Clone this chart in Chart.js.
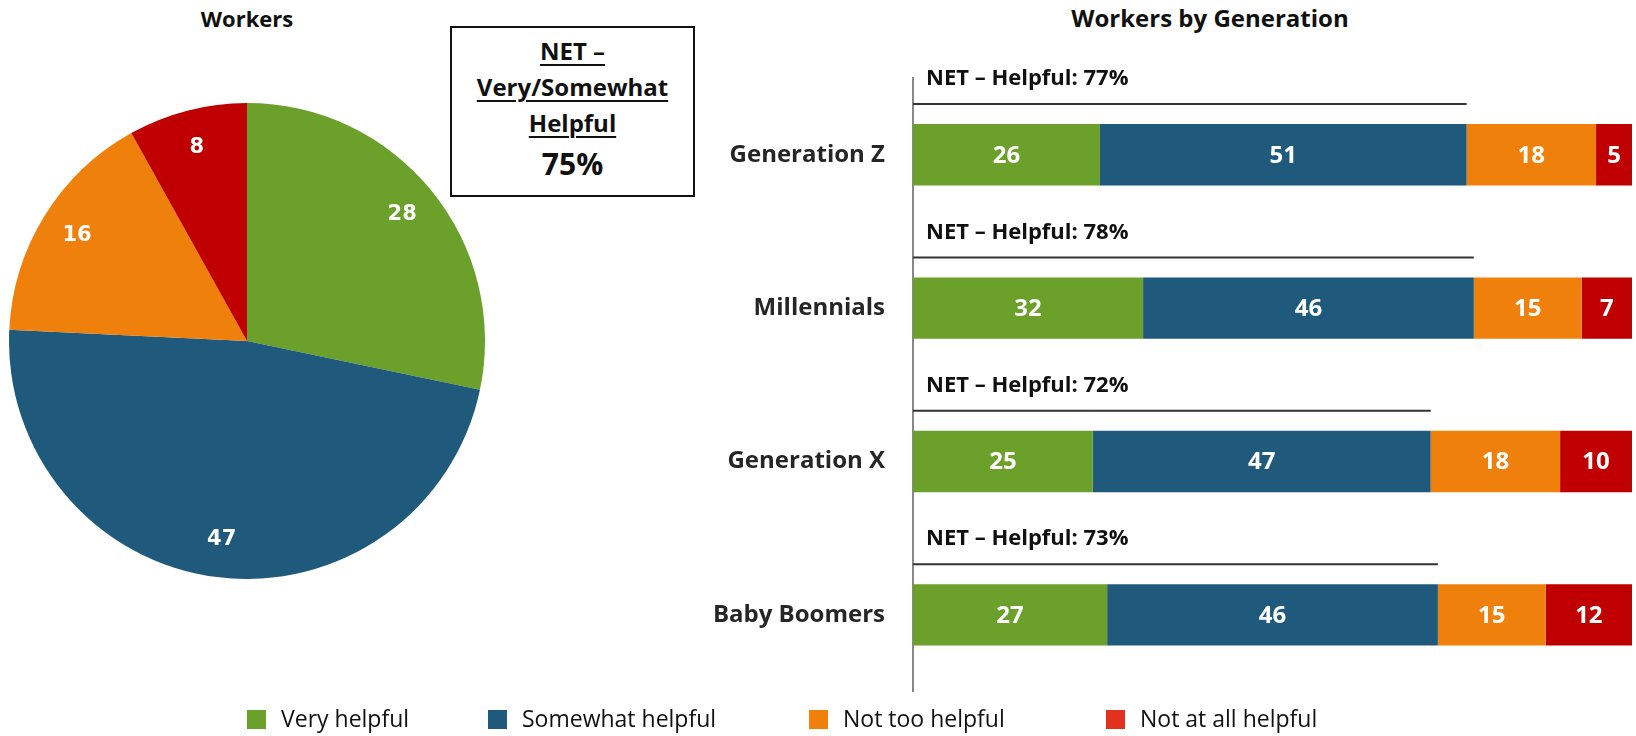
<!DOCTYPE html>
<html>
<head>
<meta charset="utf-8">
<title>Workers - helpfulness</title>
<script src="https://cdn.jsdelivr.net/npm/chart.js@4.4.1/dist/chart.umd.min.js"></script>
<style>
  body { margin: 0; width: 1636px; height: 736px; background: #fff; position: relative; overflow: hidden; font-family: "Open Sans", sans-serif; color: #111; }
  .title { position: absolute; font-weight: bold; text-align: center; transform: translateX(-50%); white-space: nowrap; }
  #pie-wrap { position: absolute; left: 9px; top: 103px; width: 476px; height: 476px; }
  #bar-wrap { position: absolute; left: 680px; top: 0; width: 956px; height: 706px; }
  .net-box { position: absolute; left: 450px; top: 26px; width: 241px; height: 167px; border: 2px solid #111; text-align: center; font-weight: bold; }
  .net-box .u { font-size: 24px; text-decoration: underline; text-decoration-thickness: 2px; text-underline-offset: 4px; line-height: 36px; }
  .net-box .big { font-size: 30px; line-height: 46px; }
  .legend { position: absolute; top: 704px; left: 0; width: 1636px; height: 28px; }
  .legend span { position: absolute; font-size: 23px; line-height: 28px; white-space: nowrap; }
  .legend i { display: inline-block; width: 19px; height: 19px; vertical-align: -2px; margin-right: 15px; }
</style>
</head>
<body>
<div class="title" style="left:247px; top:3px; font-size:22px;">Workers</div>
<div class="title" style="left:1210px; top:1px; font-size:24px;">Workers by Generation</div>
<div class="net-box">
  <div class="u" style="margin-top:5px;">NET –</div>
  <div class="u">Very/Somewhat</div>
  <div class="u">Helpful</div>
  <div class="big" id="net-total"></div>
</div>
<div id="pie-wrap"><canvas id="pie-chart"></canvas></div>
<div id="bar-wrap"><canvas id="bar-chart"></canvas></div>
<div class="legend" id="legend"></div>

<script>
// DATA
const categories = ['Very helpful', 'Somewhat helpful', 'Not too helpful', 'Not at all helpful'];
const colors = ['#6BA02A', '#1F5A7D', '#EF800C', '#C00000'];
const legendColors = ['#6BA02A', '#1F5A7D', '#EF800C', '#E2321F'];
const pieValues = [28, 47, 16, 8];
const netTotal = 75;

const generations = ['Generation Z', 'Millennials', 'Generation X', 'Baby Boomers'];
const veryHelpful = [26, 32, 25, 27];
const somewhatHelpful = [51, 46, 47, 46];
const notTooHelpful = [18, 15, 18, 15];
const notAtAllHelpful = [5, 7, 10, 12];
const netHelpful = [77, 78, 72, 73];

document.getElementById('net-total').textContent = netTotal + '%';

// legend
const legendX = [247, 488, 809, 1106];
const legendBox = document.getElementById('legend');
categories.forEach((c, i) => {
  const s = document.createElement('span');
  s.style.left = legendX[i] + 'px';
  s.innerHTML = "<i style='background:" + legendColors[i] + "'></i>" + c;
  legendBox.appendChild(s);
});

// value labels inside slices / bars
const pieLabels = {
  id: 'pieLabels',
  afterDatasetsDraw(chart) {
    const ctx = chart.ctx;
    const meta = chart.getDatasetMeta(0);
    ctx.save();
    ctx.fillStyle = '#fff';
    ctx.font = 'bold 21px "DejaVu Sans"';
    ctx.textAlign = 'center';
    ctx.textBaseline = 'middle';
    meta.data.forEach((arc, i) => {
      const a = (arc.startAngle + arc.endAngle) / 2;
      const r = arc.outerRadius * 0.84;
      ctx.fillText(pieValues[i], arc.x + Math.cos(a) * r, arc.y + Math.sin(a) * r);
    });
    ctx.restore();
  }
};

const barLabels = {
  id: 'barLabels',
  afterDatasetsDraw(chart) {
    const ctx = chart.ctx;
    ctx.save();
    ctx.fillStyle = '#fff';
    ctx.font = 'bold 24px "Open Sans"';
    ctx.textAlign = 'center';
    ctx.textBaseline = 'middle';
    chart.data.datasets.forEach((ds, d) => {
      chart.getDatasetMeta(d).data.forEach((bar, i) => {
        ctx.fillText(ds.data[i], (bar.x + bar.base) / 2, bar.y + 1);
      });
    });
    ctx.restore();
  }
};

// NET line + label above each bar
const netLines = {
  id: 'netLines',
  afterDatasetsDraw(chart) {
    const ctx = chart.ctx;
    const xs = chart.scales.x;
    const bars = chart.getDatasetMeta(0).data;
    ctx.save();
    ctx.strokeStyle = '#333';
    ctx.lineWidth = 2;
    ctx.fillStyle = '#111';
    ctx.font = 'bold 22px "Open Sans"';
    ctx.textAlign = 'left';
    ctx.textBaseline = 'middle';
    bars.forEach((bar, i) => {
      const top = bar.y - bar.height / 2;
      const ly = top - 20;
      ctx.beginPath();
      ctx.moveTo(chart.chartArea.left, ly);
      ctx.lineTo(xs.getPixelForValue(netHelpful[i]), ly);
      ctx.stroke();
      ctx.fillText('NET – Helpful: ' + netHelpful[i] + '%', chart.chartArea.left + 13, top - 45);
    });
    ctx.restore();
  }
};

// PIE
new Chart(document.getElementById('pie-chart').getContext('2d'), {
  type: 'pie',
  data: {
    labels: categories,
    datasets: [{
      data: pieValues,
      backgroundColor: colors,
      borderWidth: 0
    }]
  },
  options: {
    responsive: true,
    maintainAspectRatio: false,
    animation: false,
    plugins: { legend: { display: false }, tooltip: { enabled: false } }
  },
  plugins: [pieLabels]
});

// STACKED BARS
const barSeries = [veryHelpful, somewhatHelpful, notTooHelpful, notAtAllHelpful];
new Chart(document.getElementById('bar-chart').getContext('2d'), {
  type: 'bar',
  data: {
    labels: generations,
    datasets: barSeries.map((vals, i) => ({
      label: categories[i],
      data: vals,
      backgroundColor: colors[i],
      borderWidth: 0,
      categoryPercentage: 1,
      barPercentage: 0.4
    }))
  },
  options: {
    indexAxis: 'y',
    responsive: true,
    maintainAspectRatio: false,
    animation: false,
    layout: { padding: { top: 78, bottom: 14, left: 0, right: 4 } },
    scales: {
      x: {
        stacked: true, min: 0, max: 100,
        display: false
      },
      y: {
        stacked: true,
        // tick marks are hidden with the grid; tickLength just pushes the labels off the axis
        grid: { display: false, drawTicks: true, tickLength: 28 },
        border: { display: true, color: '#888', width: 2 },
        ticks: { color: '#262626', padding: 0, font: { family: 'Open Sans', weight: 'bold', size: 24 } },
        afterFit(scale) { scale.width = 233; }
      }
    },
    plugins: { legend: { display: false }, tooltip: { enabled: false } }
  },
  plugins: [barLabels, netLines]
});
</script>
</body>
</html>
